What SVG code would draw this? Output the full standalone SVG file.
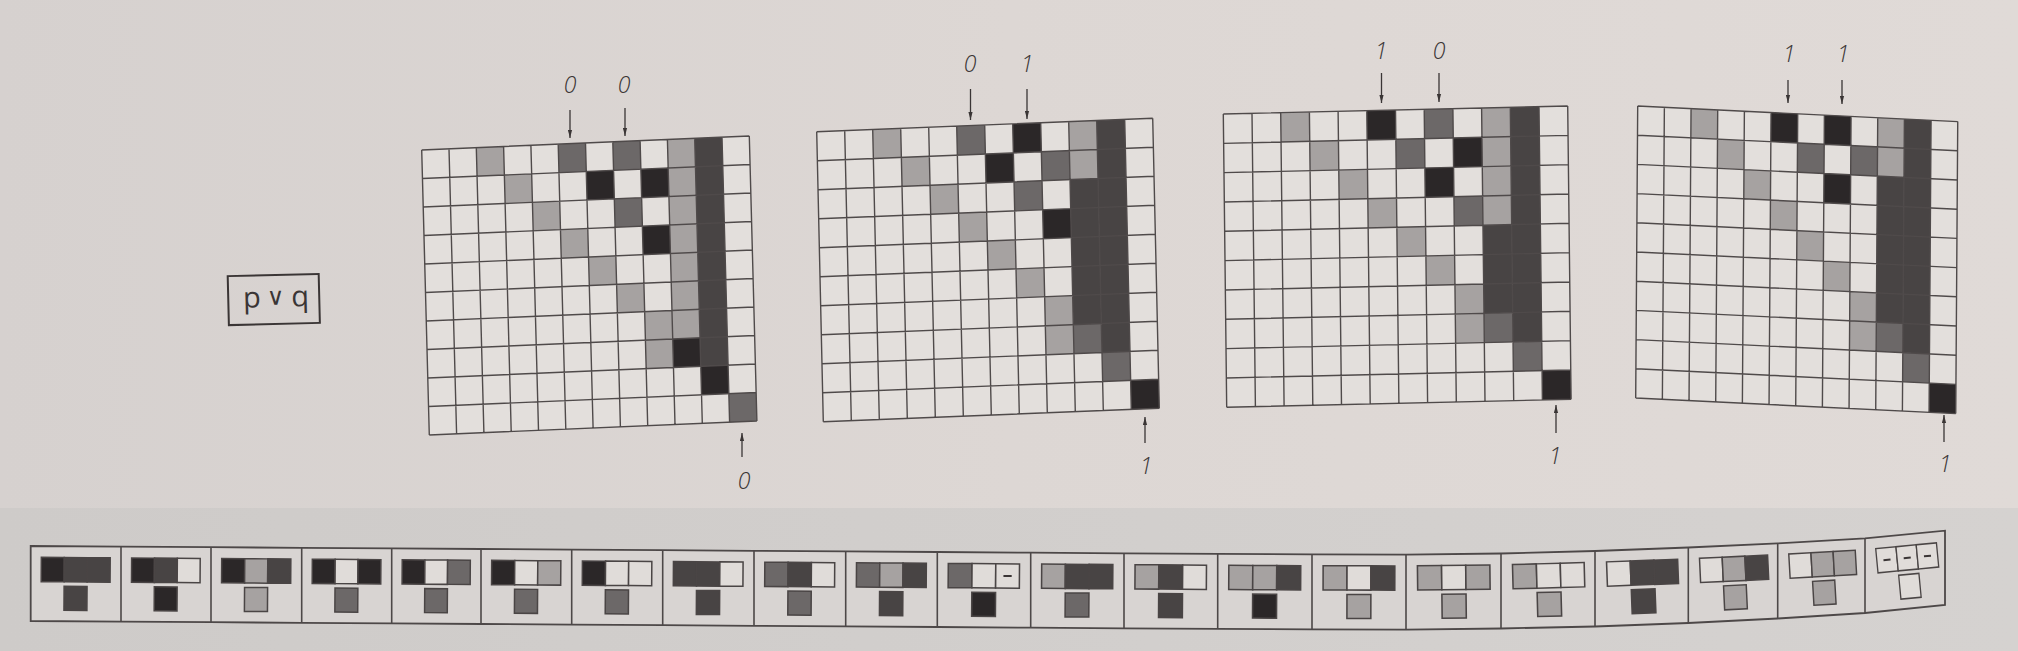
<svg xmlns="http://www.w3.org/2000/svg" width="2018" height="651" viewBox="0 0 2018 651">
<defs>
<style>
.gl{fill:none;stroke:#4f4a4a;stroke-width:1.4;vector-effect:non-scaling-stroke}
.w{fill:#e3dfdc}
.L{fill:#a6a2a1}
.M{fill:#6c6868}
.D{fill:#484444}
.B{fill:#2b2728}
.sw{fill:#e0dcd9}
.sc{stroke:#4a4545;stroke-width:1.5}
.dash{fill:#3a3535}
.lbl{font-family:"Open Sans","Liberation Sans",sans-serif;font-style:italic;font-weight:300;font-size:23px;fill:#3a3535;text-anchor:middle}
.arr{stroke:#3a3535;stroke-width:1.3;fill:none;marker-end:url(#ah)}
.strip{fill:#d8d4d2;stroke:#4d4848;stroke-width:1.8}
.div{fill:none;stroke:#4d4848;stroke-width:1.6}
</style>
<linearGradient id="bgTop" x1="0" y1="0" x2="1" y2="0">
<stop offset="0" stop-color="#d6d1cf"/>
<stop offset="0.5" stop-color="#ddd7d4"/>
<stop offset="1" stop-color="#e0dad7"/>
</linearGradient>
<linearGradient id="bgBot" x1="0" y1="0" x2="1" y2="0">
<stop offset="0" stop-color="#cecbc9"/>
<stop offset="1" stop-color="#d5d2d0"/>
</linearGradient>
<marker id="ah" viewBox="0 0 8 5" refX="8" refY="2.5" markerWidth="8" markerHeight="5" markerUnits="userSpaceOnUse" orient="auto">
<path d="M0 0.4L8 2.5L0 4.6Z" fill="#3a3535"/>
</marker>
<path id="gl" class="gl" d="M0 0V10M1 0V10M2 0V10M3 0V10M4 0V10M5 0V10M6 0V10M7 0V10M8 0V10M9 0V10M10 0V10M11 0V10M12 0V10M0 0H12M0 1H12M0 2H12M0 3H12M0 4H12M0 5H12M0 6H12M0 7H12M0 8H12M0 9H12M0 10H12"/>
</defs>

<rect x="0" y="0" width="2018" height="508" fill="url(#bgTop)"/>
<rect x="0" y="508" width="2018" height="143" fill="url(#bgBot)"/>

<g id="pvq" transform="rotate(-1.4 274 300)">
<rect x="228.3" y="275" width="91" height="49" fill="none" stroke="#3a3535" stroke-width="2"/>
<text x="276" y="307" font-family="'Open Sans','Liberation Sans',sans-serif" font-size="29" fill="#3a3535" text-anchor="middle">p<tspan font-size="24" dy="-2"> ∨ </tspan><tspan dy="2">q</tspan></text>
</g>

<g id="grid1" transform="matrix(27.3 -1.167 0.76 28.5 421.7 150)">
<rect class="w" width="12" height="10"/>
<rect class="L" x="2" y="0" width="1" height="1"/>
<rect class="M" x="5" y="0" width="1" height="1"/>
<rect class="M" x="7" y="0" width="1" height="1"/>
<rect class="L" x="9" y="0" width="1" height="7"/>
<rect class="D" x="10" y="0" width="1" height="8"/>
<rect class="L" x="3" y="1" width="1" height="1"/>
<rect class="B" x="6" y="1" width="1" height="1"/>
<rect class="B" x="8" y="1" width="1" height="1"/>
<rect class="L" x="4" y="2" width="1" height="1"/>
<rect class="M" x="7" y="2" width="1" height="1"/>
<rect class="L" x="5" y="3" width="1" height="1"/>
<rect class="B" x="8" y="3" width="1" height="1"/>
<rect class="L" x="6" y="4" width="1" height="1"/>
<rect class="L" x="7" y="5" width="1" height="1"/>
<rect class="L" x="8" y="6" width="1" height="2"/>
<rect class="B" x="9" y="7" width="1" height="1"/>
<rect class="B" x="10" y="8" width="1" height="1"/>
<rect class="M" x="11" y="9" width="1" height="1"/>
<use href="#gl"/>
</g>

<g id="grid2" transform="matrix(28 -1.117 0.66 29 816.7 131.7)">
<rect class="w" width="12" height="10"/>
<rect class="L" x="2" y="0" width="1" height="1"/>
<rect class="M" x="5" y="0" width="1" height="1"/>
<rect class="B" x="7" y="0" width="1" height="1"/>
<rect class="L" x="9" y="0" width="1" height="2"/>
<rect class="D" x="10" y="0" width="1" height="8"/>
<rect class="L" x="3" y="1" width="1" height="1"/>
<rect class="B" x="6" y="1" width="1" height="1"/>
<rect class="M" x="8" y="1" width="1" height="1"/>
<rect class="L" x="4" y="2" width="1" height="1"/>
<rect class="M" x="7" y="2" width="1" height="1"/>
<rect class="D" x="9" y="2" width="1" height="5"/>
<rect class="L" x="5" y="3" width="1" height="1"/>
<rect class="B" x="8" y="3" width="1" height="1"/>
<rect class="L" x="6" y="4" width="1" height="1"/>
<rect class="L" x="7" y="5" width="1" height="1"/>
<rect class="L" x="8" y="6" width="1" height="2"/>
<rect class="M" x="9" y="7" width="1" height="1"/>
<rect class="M" x="10" y="8" width="1" height="1"/>
<rect class="B" x="11" y="9" width="1" height="1"/>
<use href="#gl"/>
</g>

<g id="grid3" transform="matrix(28.7 -0.667 0.34 29.33 1223.3 114)">
<rect class="w" width="12" height="10"/>
<rect class="L" x="2" y="0" width="1" height="1"/>
<rect class="B" x="5" y="0" width="1" height="1"/>
<rect class="M" x="7" y="0" width="1" height="1"/>
<rect class="L" x="9" y="0" width="1" height="4"/>
<rect class="D" x="10" y="0" width="1" height="8"/>
<rect class="L" x="3" y="1" width="1" height="1"/>
<rect class="M" x="6" y="1" width="1" height="1"/>
<rect class="B" x="8" y="1" width="1" height="1"/>
<rect class="L" x="4" y="2" width="1" height="1"/>
<rect class="B" x="7" y="2" width="1" height="1"/>
<rect class="L" x="5" y="3" width="1" height="1"/>
<rect class="M" x="8" y="3" width="1" height="1"/>
<rect class="L" x="6" y="4" width="1" height="1"/>
<rect class="D" x="9" y="4" width="1" height="3"/>
<rect class="L" x="7" y="5" width="1" height="1"/>
<rect class="L" x="8" y="6" width="1" height="2"/>
<rect class="M" x="9" y="7" width="1" height="1"/>
<rect class="M" x="10" y="8" width="1" height="1"/>
<rect class="B" x="11" y="9" width="1" height="1"/>
<use href="#gl"/>
</g>

<g id="grid4" transform="matrix(26.67 1.3 -0.2 29.2 1637.7 106)">
<rect class="w" width="12" height="10"/>
<rect class="L" x="2" y="0" width="1" height="1"/>
<rect class="B" x="5" y="0" width="1" height="1"/>
<rect class="B" x="7" y="0" width="1" height="1"/>
<rect class="L" x="9" y="0" width="1" height="2"/>
<rect class="D" x="10" y="0" width="1" height="8"/>
<rect class="L" x="3" y="1" width="1" height="1"/>
<rect class="M" x="6" y="1" width="1" height="1"/>
<rect class="M" x="8" y="1" width="1" height="1"/>
<rect class="L" x="4" y="2" width="1" height="1"/>
<rect class="B" x="7" y="2" width="1" height="1"/>
<rect class="D" x="9" y="2" width="1" height="5"/>
<rect class="L" x="5" y="3" width="1" height="1"/>
<rect class="L" x="6" y="4" width="1" height="1"/>
<rect class="L" x="7" y="5" width="1" height="1"/>
<rect class="L" x="8" y="6" width="1" height="2"/>
<rect class="M" x="9" y="7" width="1" height="1"/>
<rect class="M" x="10" y="8" width="1" height="1"/>
<rect class="B" x="11" y="9" width="1" height="1"/>
<use href="#gl"/>
</g>

<g id="labels">
<text class="lbl" x="570" y="93">0</text>
<text class="lbl" x="624" y="93">0</text>
<text class="lbl" x="744" y="489">0</text>
<text class="lbl" x="970" y="72">0</text>
<text class="lbl" x="1027" y="72">1</text>
<text class="lbl" x="1146" y="474">1</text>
<text class="lbl" x="1381" y="59">1</text>
<text class="lbl" x="1439" y="59">0</text>
<text class="lbl" x="1555" y="464">1</text>
<text class="lbl" x="1789" y="62">1</text>
<text class="lbl" x="1843" y="62">1</text>
<text class="lbl" x="1945" y="472">1</text>
</g>

<g id="connectors">
<path class="arr" d="M570 110V138"/>
<path class="arr" d="M625 108V136"/>
<path class="arr" d="M742 457V433"/>
<path class="arr" d="M970.5 89V120"/>
<path class="arr" d="M1027 89V119"/>
<path class="arr" d="M1145 443V417"/>
<path class="arr" d="M1381.5 73V103"/>
<path class="arr" d="M1439 73V102"/>
<path class="arr" d="M1556 433V405"/>
<path class="arr" d="M1788 80V103"/>
<path class="arr" d="M1842 80V104"/>
<path class="arr" d="M1944 442V415"/>
</g>

<g id="rules">
<path class="strip" d="M30.7 546L121 546.6L211 547.2L301.7 547.8L391.7 548.4L481 549L571.7 549.6L662.7 550.2L754 550.8L845.7 551.4L937.3 552L1030.7 552.7L1124 553.3L1217.7 553.9L1312 554.4L1406 554.6L1501 553.5L1595 551L1688.3 547.5L1777.7 543.3L1865 538.3L1945 530.7L1945 605L1865 613L1777.7 618.5L1688.3 623L1595 626.5L1501 628.5L1406 629.6L1312 629.4L1217.7 628.9L1124 628.3L1030.7 627.7L937.3 627L845.7 626.4L754 625.8L662.7 625.2L571.7 624.6L481 624L391.7 623.4L301.7 622.8L211 622.2L121 621.6L30.7 621Z"/>
<path class="div" d="M121 546.6V621.6M211 547.2V622.2M301.7 547.8V622.8M391.7 548.4V623.4M481 549V624M571.7 549.6V624.6M662.7 550.2V625.2M754 550.8V625.8M845.7 551.4V626.4M937.3 552V627M1030.7 552.7V627.7M1124 553.3V628.3M1217.7 553.9V628.9M1312 554.4V629.4M1406 554.6V629.6M1501 553.5V628.5M1595 551V626.5M1688.3 547.5V623M1777.7 543.3V618.5M1865 538.3V613"/>

<g id="r1" transform="translate(75.85 546.3) rotate(0.38) scale(0.998 1)">
<rect class="B sc" x="-34.5" y="11.3" width="23" height="24.3"/><rect class="D sc" x="-11.5" y="11.3" width="23" height="24.3"/><rect class="D sc" x="11.5" y="11.3" width="23" height="24.3"/><rect class="D sc" x="-11.5" y="40" width="23" height="24"/>
</g>
<g id="r2" transform="translate(166 546.9) rotate(0.38) scale(0.994 1)">
<rect class="B sc" x="-34.5" y="11.3" width="23" height="24.3"/><rect class="D sc" x="-11.5" y="11.3" width="23" height="24.3"/><rect class="sw sc" x="11.5" y="11.3" width="23" height="24.3"/><rect class="B sc" x="-11.5" y="40" width="23" height="24"/>
</g>
<g id="r3" transform="translate(256.35 547.5) rotate(0.38) scale(1.002 1)">
<rect class="B sc" x="-34.5" y="11.3" width="23" height="24.3"/><rect class="L sc" x="-11.5" y="11.3" width="23" height="24.3"/><rect class="D sc" x="11.5" y="11.3" width="23" height="24.3"/><rect class="L sc" x="-11.5" y="40" width="23" height="24"/>
</g>
<g id="r4" transform="translate(346.7 548.1) rotate(0.38) scale(0.994 1)">
<rect class="B sc" x="-34.5" y="11.3" width="23" height="24.3"/><rect class="sw sc" x="-11.5" y="11.3" width="23" height="24.3"/><rect class="B sc" x="11.5" y="11.3" width="23" height="24.3"/><rect class="M sc" x="-11.5" y="40" width="23" height="24"/>
</g>
<g id="r5" transform="translate(436.35 548.7) rotate(0.38) scale(0.987 1)">
<rect class="B sc" x="-34.5" y="11.3" width="23" height="24.3"/><rect class="sw sc" x="-11.5" y="11.3" width="23" height="24.3"/><rect class="M sc" x="11.5" y="11.3" width="23" height="24.3"/><rect class="M sc" x="-11.5" y="40" width="23" height="24"/>
</g>
<g id="r6" transform="translate(526.35 549.3) rotate(0.38) scale(1.002 1)">
<rect class="B sc" x="-34.5" y="11.3" width="23" height="24.3"/><rect class="sw sc" x="-11.5" y="11.3" width="23" height="24.3"/><rect class="L sc" x="11.5" y="11.3" width="23" height="24.3"/><rect class="M sc" x="-11.5" y="40" width="23" height="24"/>
</g>
<g id="r7" transform="translate(617.2 549.9) rotate(0.38) scale(1.006 1)">
<rect class="B sc" x="-34.5" y="11.3" width="23" height="24.3"/><rect class="sw sc" x="-11.5" y="11.3" width="23" height="24.3"/><rect class="sw sc" x="11.5" y="11.3" width="23" height="24.3"/><rect class="M sc" x="-11.5" y="40" width="23" height="24"/>
</g>
<g id="r8" transform="translate(708.35 550.5) rotate(0.38) scale(1.009 1)">
<rect class="D sc" x="-34.5" y="11.3" width="23" height="24.3"/><rect class="D sc" x="-11.5" y="11.3" width="23" height="24.3"/><rect class="sw sc" x="11.5" y="11.3" width="23" height="24.3"/><rect class="D sc" x="-11.5" y="40" width="23" height="24"/>
</g>
<g id="r9" transform="translate(799.85 551.1) rotate(0.38) scale(1.013 1)">
<rect class="M sc" x="-34.5" y="11.3" width="23" height="24.3"/><rect class="D sc" x="-11.5" y="11.3" width="23" height="24.3"/><rect class="sw sc" x="11.5" y="11.3" width="23" height="24.3"/><rect class="M sc" x="-11.5" y="40" width="23" height="24"/>
</g>
<g id="r10" transform="translate(891.5 551.7) rotate(0.38) scale(1.012 1)">
<rect class="M sc" x="-34.5" y="11.3" width="23" height="24.3"/><rect class="L sc" x="-11.5" y="11.3" width="23" height="24.3"/><rect class="D sc" x="11.5" y="11.3" width="23" height="24.3"/><rect class="D sc" x="-11.5" y="40" width="23" height="24"/>
</g>
<g id="r11" transform="translate(984 552.35) rotate(0.43) scale(1.032 1)">
<rect class="M sc" x="-34.5" y="11.3" width="23" height="24.3"/><rect class="sw sc" x="-11.5" y="11.3" width="23" height="24.3"/><rect class="sw sc" x="11.5" y="11.3" width="23" height="24.3"/><rect class="dash" x="19" y="22.5" width="8" height="2"/><rect class="B sc" x="-11.5" y="40" width="23" height="24"/>
</g>
<g id="r12" transform="translate(1077.35 553) rotate(0.37) scale(1.031 1)">
<rect class="L sc" x="-34.5" y="11.3" width="23" height="24.3"/><rect class="D sc" x="-11.5" y="11.3" width="23" height="24.3"/><rect class="D sc" x="11.5" y="11.3" width="23" height="24.3"/><rect class="M sc" x="-11.5" y="40" width="23" height="24"/>
</g>
<g id="r13" transform="translate(1170.85 553.6) rotate(0.37) scale(1.035 1)">
<rect class="L sc" x="-34.5" y="11.3" width="23" height="24.3"/><rect class="D sc" x="-11.5" y="11.3" width="23" height="24.3"/><rect class="sw sc" x="11.5" y="11.3" width="23" height="24.3"/><rect class="D sc" x="-11.5" y="40" width="23" height="24"/>
</g>
<g id="r14" transform="translate(1264.85 554.15) rotate(0.3) scale(1.042 1)">
<rect class="L sc" x="-34.5" y="11.3" width="23" height="24.3"/><rect class="L sc" x="-11.5" y="11.3" width="23" height="24.3"/><rect class="D sc" x="11.5" y="11.3" width="23" height="24.3"/><rect class="B sc" x="-11.5" y="40" width="23" height="24"/>
</g>
<g id="r15" transform="translate(1359 554.5) rotate(0.12) scale(1.039 1)">
<rect class="L sc" x="-34.5" y="11.3" width="23" height="24.3"/><rect class="sw sc" x="-11.5" y="11.3" width="23" height="24.3"/><rect class="D sc" x="11.5" y="11.3" width="23" height="24.3"/><rect class="L sc" x="-11.5" y="40" width="23" height="24"/>
</g>
<g id="r16" transform="translate(1453.5 554.05) rotate(-0.66) scale(1.05 1)">
<rect class="L sc" x="-34.5" y="11.3" width="23" height="24.3"/><rect class="sw sc" x="-11.5" y="11.3" width="23" height="24.3"/><rect class="L sc" x="11.5" y="11.3" width="23" height="24.3"/><rect class="L sc" x="-11.5" y="40" width="23" height="24"/>
</g>
<g id="r17" transform="translate(1548 552.25) rotate(-1.52) scale(1.039 1)">
<rect class="L sc" x="-34.5" y="11.3" width="23" height="24.3"/><rect class="sw sc" x="-11.5" y="11.3" width="23" height="24.3"/><rect class="sw sc" x="11.5" y="11.3" width="23" height="24.3"/><rect class="L sc" x="-11.5" y="40" width="23" height="24"/>
</g>
<g id="r18" transform="translate(1641.65 549.25) rotate(-2.15) scale(1.031 1)">
<rect class="sw sc" x="-34.5" y="11.3" width="23" height="24.3"/><rect class="D sc" x="-11.5" y="11.3" width="23" height="24.3"/><rect class="D sc" x="11.5" y="11.3" width="23" height="24.3"/><rect class="D sc" x="-11.5" y="40" width="23" height="24"/>
</g>
<g id="r19" transform="translate(1733 545.4) rotate(-2.69) scale(0.988 1)">
<rect class="sw sc" x="-34.5" y="11.3" width="23" height="24.3"/><rect class="L sc" x="-11.5" y="11.3" width="23" height="24.3"/><rect class="D sc" x="11.5" y="11.3" width="23" height="24.3"/><rect class="L sc" x="-11.5" y="40" width="23" height="24"/>
</g>
<g id="r20" transform="translate(1821.35 540.8) rotate(-3.28) scale(0.965 1)">
<rect class="sw sc" x="-34.5" y="11.3" width="23" height="24.3"/><rect class="L sc" x="-11.5" y="11.3" width="23" height="24.3"/><rect class="L sc" x="11.5" y="11.3" width="23" height="24.3"/><rect class="L sc" x="-11.5" y="40" width="23" height="24"/>
</g>
<g id="r21" transform="translate(1905 534.5) rotate(-5.43) scale(0.884 1)">
<rect class="sw sc" x="-34.5" y="11.3" width="23" height="24.3"/><rect class="dash" x="-27" y="22.5" width="8" height="2"/><rect class="sw sc" x="-11.5" y="11.3" width="23" height="24.3"/><rect class="dash" x="-4" y="22.5" width="8" height="2"/><rect class="sw sc" x="11.5" y="11.3" width="23" height="24.3"/><rect class="dash" x="19" y="22.5" width="8" height="2"/><rect class="sw sc" x="-11.5" y="40" width="23" height="24"/>
</g>
</g>
</svg>
